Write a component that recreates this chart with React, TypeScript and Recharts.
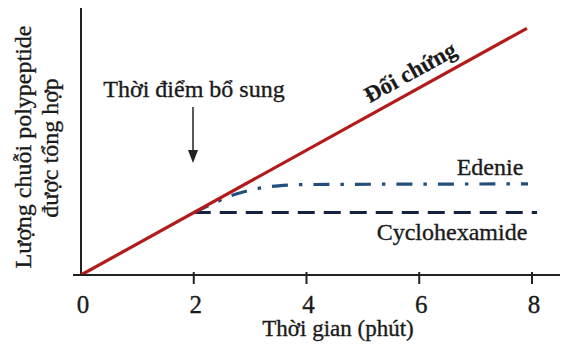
import React from 'react';
import { LineChart, Line, XAxis, YAxis, ReferenceLine } from 'recharts';

const xTicks = [0, 2, 4, 6, 8];

const controlTime = [0, 7.91];
const controlValue = [0, 7.91];

const edenieTime = [2, 2.3, 2.6, 3.0, 3.5, 4.0, 7.93];
const edenieValue = [2, 2.25, 2.5, 2.72, 2.86, 2.9, 2.92];

const cycloTime = [2, 8.09];
const cycloValue = [2, 2];

const controlData = controlTime.map((t, i) => ({ t, v: controlValue[i] }));
const edenieData = edenieTime.map((t, i) => ({ t, v: edenieValue[i] }));
const cycloData = cycloTime.map((t, i) => ({ t, v: cycloValue[i] }));

const FONT = '"Liberation Serif", "Times New Roman", serif';
const INK = '#1a1a1a';

const txt = {
  fontFamily: FONT,
  fill: INK,
  stroke: INK,
  strokeWidth: 0.35,
} as const;

const Tick = (props: any) => {
  const { x, y, payload } = props;
  return (
    <g>
      {payload.value !== 0 && (
        <line x1={x} x2={x} y1={y - 5} y2={y + 7} stroke="#222" strokeWidth={2} />
      )}
      <text x={x + 2} y={y + 36} textAnchor="middle" fontSize={25} {...txt}>
        {payload.value}
      </text>
    </g>
  );
};

export default function App() {
  return (
    <div style={{ position: 'absolute', left: 0, top: 0, width: 562, height: 356, background: '#fff' }}>
      <LineChart
        width={562}
        height={356}
        margin={{ top: 8, right: 2, bottom: 51, left: 73 }}
      >
        <XAxis
          type="number"
          dataKey="t"
          domain={[-0.142, 8.497]}
          ticks={xTicks}
          tickSize={0}
          tickLine={false}
          tick={<Tick />}
          axisLine={{ stroke: '#222', strokeWidth: 2 }}
          height={30}
          allowDataOverflow
        />
        <YAxis type="number" domain={[0, 8.56]} hide width={0} allowDataOverflow />
        <ReferenceLine x={0} stroke="#222" strokeWidth={2} />
        <Line
          data={cycloData}
          dataKey="v"
          stroke="#15223f"
          strokeWidth={3}
          strokeDasharray="17 9"
          dot={false}
          isAnimationActive={false}
        />
        <Line
          data={edenieData}
          dataKey="v"
          type="monotone"
          stroke="#234f7d"
          strokeWidth={3.2}
          strokeDasharray="16 11 3.5 11"
          dot={false}
          isAnimationActive={false}
        />
        <Line
          data={controlData}
          dataKey="v"
          stroke="#b31b1b"
          strokeWidth={3.2}
          dot={false}
          isAnimationActive={false}
        />
      </LineChart>
      <svg
        width={562}
        height={356}
        style={{ position: 'absolute', left: 0, top: 0, pointerEvents: 'none' }}
      >
        <text x={194} y={97} textAnchor="middle" fontSize={24} {...txt}>
          Thời điểm bổ sung
        </text>
        <line x1={193} y1={107} x2={193} y2={152} stroke="#222" strokeWidth={1.5} />
        <polygon points="188,150 198,150 193,163" fill="#222" />
        <text
          x={410}
          y={80}
          textAnchor="middle"
          fontSize={23}
          fontWeight="bold"
          {...txt}
          strokeWidth={0.2}
          transform="rotate(-29 410 72)"
        >
          Đối chứng
        </text>
        <text x={490} y={175} textAnchor="middle" fontSize={24} {...txt}>
          Edenie
        </text>
        <text x={452} y={240} textAnchor="middle" fontSize={24} {...txt}>
          Cyclohexamide
        </text>
        <text x={338} y={336} textAnchor="middle" fontSize={23} {...txt}>
          Thời gian (phút)
        </text>
        <text
          x={0}
          y={0}
          textAnchor="middle"
          fontSize={24}
          {...txt}
          transform="translate(31 147) rotate(-90)"
        >
          Lượng chuỗi polypeptide
        </text>
        <text
          x={0}
          y={0}
          textAnchor="middle"
          fontSize={24}
          {...txt}
          transform="translate(58 148) rotate(-90)"
        >
          được tổng hợp
        </text>
      </svg>
    </div>
  );
}
